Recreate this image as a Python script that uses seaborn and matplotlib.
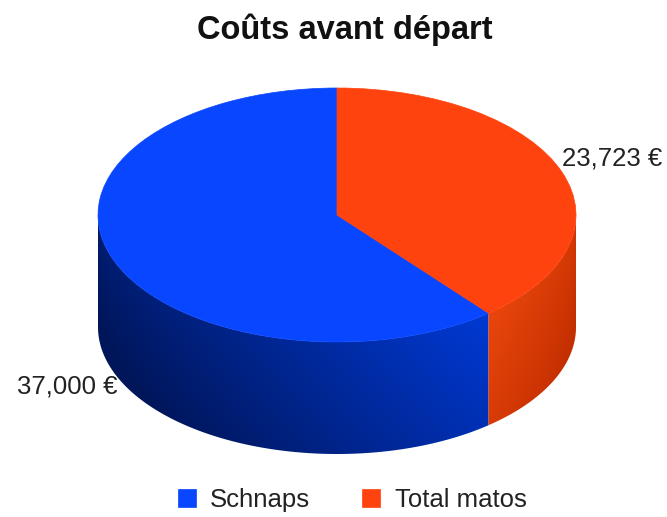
import numpy as np
import matplotlib
matplotlib.use('Agg')
from matplotlib import pyplot as plt
from matplotlib.colors import to_rgb
from matplotlib.patches import Polygon
import seaborn as sns

categories = ['Schnaps', 'Total matos']
values = [37000, 23723]
value_labels = ['37,000 €', '23,723 €']
top_colors = ['#0846ff', '#ff430e']
side_dark = ['#00165a', '#c22e00']
side_light = ['#0039d4', '#ea460c']

sns.set_theme(style='white')
plt.rcParams['font.family'] = ['Liberation Sans', 'DejaVu Sans']

W, H = 667, 517
fig = plt.figure(figsize=(W / 100, H / 100), dpi=100)
ax = fig.add_axes([0, 0, 1, 1])

# pixel geometry of the cylinder: centre, radii, thickness
cx, cy, rx, ry, depth_px = 337, 215, 239, 127, 112
depth = depth_px / ry

wedges, _ = ax.pie(values, startangle=90, counterclock=True, colors=top_colors,
                   radius=1, wedgeprops=dict(linewidth=0.5, zorder=5))
for w, c in zip(wedges, top_colors):
    w.set_edgecolor(c)

# shading grid for the cylinder wall
gx = np.linspace(-1, 1, 400)
gy = np.linspace(-1 - depth, 0, 300)
X, Y = np.meshgrid(gx, gy)
top = -np.sqrt(np.clip(1 - X ** 2, 0, 1))
fy = np.clip((Y - (top - depth)) / depth, 0, 1)  # 1 at top of wall, 0 at bottom

for i, w in enumerate(wedges):
    t1, t2 = w.theta1 % 360, w.theta2 % 360
    if t2 <= t1:
        t2 += 360
    lo, hi = max(t1, 180), min(t2, 360)
    if hi <= lo:
        continue
    ts = np.radians(np.linspace(lo, hi, 200))
    pts = np.concatenate([np.c_[np.cos(ts), np.sin(ts)],
                          np.c_[np.cos(ts[::-1]), np.sin(ts[::-1]) - depth]])
    x0, x1 = np.cos(ts).min(), np.cos(ts).max()
    fx = np.clip((X - x0) / (x1 - x0), 0, 1)
    if i == 0:
        f = np.clip(0.8 * fx ** 1.3 + 0.25 * fy - 0.05, 0, 1)
    else:
        f = np.clip(1 - (0.55 * fx + 0.45 * (1 - fy)), 0, 1)
    d, l = np.array(to_rgb(side_dark[i])), np.array(to_rgb(side_light[i]))
    img = d + (l - d) * f[..., None]
    poly = Polygon(pts, closed=True, fc='none', ec='none', transform=ax.transData)
    ax.add_patch(poly)
    im = ax.imshow(img, extent=(gx[0], gx[-1], gy[0], gy[-1]), origin='lower',
                   aspect='auto', zorder=2, interpolation='bilinear')
    im.set_clip_path(poly)

# value labels next to each slice
for w, lab in zip(wedges, value_labels):
    mid = np.radians((w.theta1 + w.theta2) / 2)
    mx, my = np.cos(mid), np.sin(mid)
    if my < 0:
        ax.text(mx + 0.025, my - depth - 0.135, lab, ha='right', va='center',
                fontsize=18.5, color='#222222')
    else:
        ax.text(mx - 0.0, my + 0.11, lab, ha='left', va='center',
                fontsize=18.5, color='#222222')

ax.set_aspect('auto')
ax.set_xlim(-cx / rx, (W - cx) / rx)
ax.set_ylim((cy - H) / ry, cy / ry)
ax.axis('off')

fig.text(345 / W, 1 - 30 / H, 'Coûts avant départ', ha='center', va='center',
         fontsize=23.5, fontweight='bold', color='#111111')

leg = fig.legend(wedges, categories, loc='center', bbox_to_anchor=(352 / W, 1 - 500 / H),
                 ncol=2, frameon=False, fontsize=18.5, handlelength=0.7, handleheight=0.7,
                 handletextpad=0.55, columnspacing=2.05, labelcolor='#222222')

plt.savefig('out.png', dpi=100)
